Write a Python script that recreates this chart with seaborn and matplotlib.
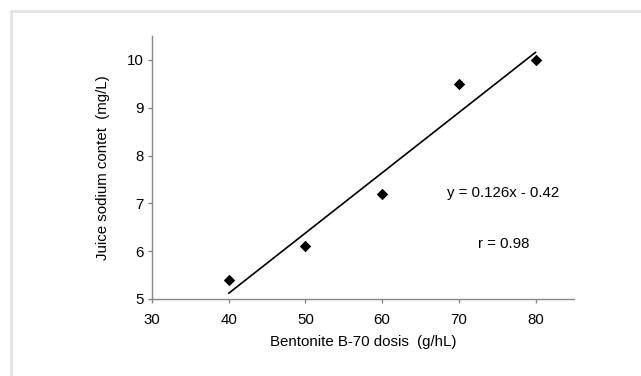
import numpy as np
import pandas as pd
import seaborn as sns
import matplotlib
matplotlib.use("Agg")
import matplotlib.pyplot as plt
from matplotlib.patches import Rectangle

dose = [40, 50, 60, 70, 80]
sodium = [5.4, 6.1, 7.2, 9.5, 10.0]
eq_text = "y = 0.126x - 0.42"
r_text = "r = 0.98"

df = pd.DataFrame({"dose": dose, "sodium": sodium})

sns.set_style("white")
plt.rcParams['font.family'] = ['Liberation Sans', 'DejaVu Sans']
plt.rcParams['text.color'] = 'black'
plt.rcParams['axes.labelcolor'] = 'black'
plt.rcParams['xtick.color'] = 'black'
plt.rcParams['ytick.color'] = 'black'

fs = 10.8

fig = plt.figure(figsize=(6.41, 3.76), dpi=100)
ax = fig.add_axes([0.2371, 0.2048, 0.6584, 0.6995])

sns.regplot(x="dose", y="sodium", data=df, ci=None, truncate=True, marker="D",
            color="black", scatter_kws={"s": 34, "linewidths": 0, "alpha": 1},
            line_kws={"linewidth": 1.2}, ax=ax)

ax.set_xlim(30, 85)
ax.set_ylim(5, 10.5)
ax.set_xticks([30, 40, 50, 60, 70, 80])
ax.set_yticks([5, 6, 7, 8, 9, 10])
ax.set_xlabel("Bentonite B-70 dosis  (g/hL)", fontsize=fs, labelpad=6)
ax.set_ylabel("Juice sodium contet  (mg/L)", fontsize=fs, labelpad=12)
ax.tick_params(axis="both", labelsize=fs, length=3, width=1, color="#888888",
               labelcolor="black", direction="out", pad=3, bottom=True, left=True)
ax.tick_params(axis="x", pad=7)
for s in ["top", "right"]:
    ax.spines[s].set_visible(False)
for s in ["left", "bottom"]:
    ax.spines[s].set_color("#888888")
    ax.spines[s].set_linewidth(1)

ax.text(75.8, 7.22, eq_text, fontsize=fs, ha="center", va="center")
ax.text(75.8, 6.15, r_text, fontsize=fs, ha="center", va="center")

fig.patches.append(Rectangle((11 / 641, -0.1), 1.2, 1.1 - 11 / 376,
                             transform=fig.transFigure, fill=False,
                             edgecolor="#e6e6e6", linewidth=2.2))

fig.savefig("out.png", dpi=100)
